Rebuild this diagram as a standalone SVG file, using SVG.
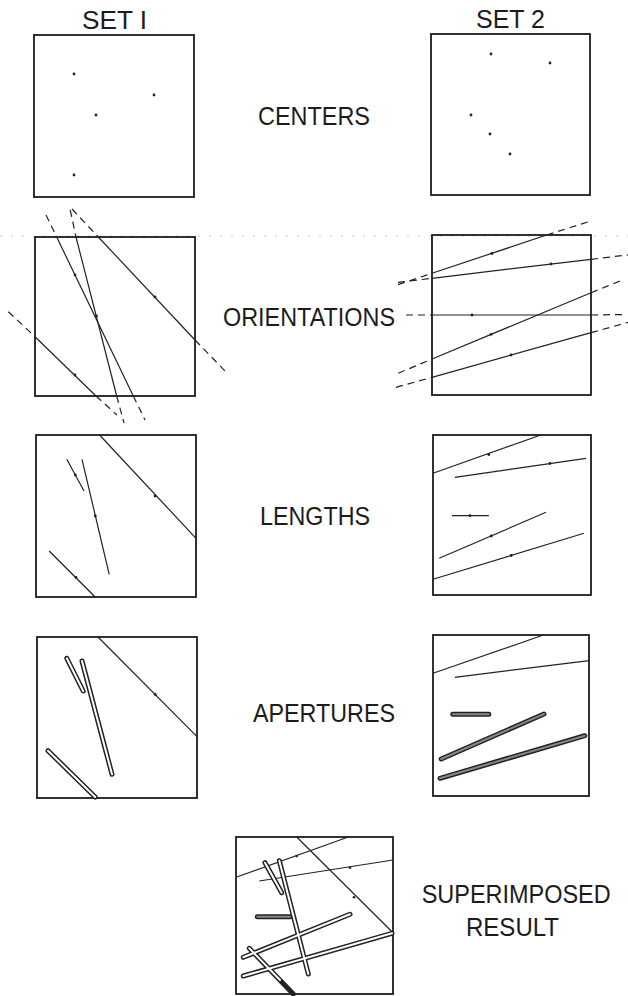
<svg xmlns="http://www.w3.org/2000/svg" width="628" height="996" viewBox="0 0 628 996">
<style>
.box{fill:none;stroke:#1c1c1c;stroke-width:1.8}
.ln{fill:none;stroke:#222;stroke-width:1.2}
.dash{fill:none;stroke:#222;stroke-width:1.2;stroke-dasharray:7 5}
.dot{fill:#222}
.apo{stroke:#222;stroke-width:5;stroke-linecap:round;fill:none}
.api{stroke:#fff;stroke-width:2;stroke-linecap:round;fill:none}
.apg{stroke:#888;stroke-width:2;stroke-linecap:round;fill:none}
.faint{stroke:#c4c4c4;stroke-width:1;stroke-dasharray:2 9;fill:none}
text{font-family:"Liberation Sans",Arial,sans-serif;font-size:25px;fill:#1c1c1c}
</style>
<rect width="628" height="996" fill="#fff"/>

<g id="labels">
<text x="82" y="29" textLength="65" lengthAdjust="spacingAndGlyphs">SET I</text>
<text x="476" y="28" textLength="69" lengthAdjust="spacingAndGlyphs">SET 2</text>
<text x="258" y="125" textLength="112" lengthAdjust="spacingAndGlyphs">CENTERS</text>
<text x="223" y="325.5" textLength="172" lengthAdjust="spacingAndGlyphs">ORIENTATIONS</text>
<text x="260" y="525" textLength="110" lengthAdjust="spacingAndGlyphs">LENGTHS</text>
<text x="253" y="722" textLength="142" lengthAdjust="spacingAndGlyphs">APERTURES</text>
<text x="421.7" y="903.3" textLength="189" lengthAdjust="spacingAndGlyphs">SUPERIMPOSED</text>
<text x="466" y="936" textLength="93" lengthAdjust="spacingAndGlyphs">RESULT</text>
</g>

<line class="faint" x1="0" y1="236" x2="628" y2="236"/>

<g id="centers-set1">
<rect class="box" x="34" y="35" width="160" height="162"/>
<circle class="dot" cx="74" cy="74" r="1.4"/>
<circle class="dot" cx="154" cy="95" r="1.4"/>
<circle class="dot" cx="96" cy="115" r="1.4"/>
<circle class="dot" cx="74" cy="175" r="1.4"/>
</g>

<g id="centers-set2">
<rect class="box" x="431" y="34" width="159" height="161"/>
<circle class="dot" cx="491" cy="54" r="1.4"/>
<circle class="dot" cx="550" cy="63" r="1.4"/>
<circle class="dot" cx="471" cy="115" r="1.4"/>
<circle class="dot" cx="490" cy="134" r="1.4"/>
<circle class="dot" cx="510" cy="154" r="1.4"/>
</g>

<g id="orientations-set1">
<rect class="box" x="35" y="237" width="160" height="159"/>
<line class="ln" x1="56.7" y1="237" x2="133.3" y2="396"/>
<line class="ln" x1="76" y1="237" x2="116.7" y2="396"/>
<line class="ln" x1="98.3" y1="237" x2="195" y2="340"/>
<line class="ln" x1="35" y1="336.7" x2="96" y2="396"/>
<line class="dash" x1="46" y1="215" x2="56.7" y2="237"/>
<line class="dash" x1="133.3" y1="396" x2="145" y2="420"/>
<line class="dash" x1="70.2" y1="210" x2="76" y2="237"/>
<line class="dash" x1="116.7" y1="396" x2="124" y2="423"/>
<line class="dash" x1="72" y1="209" x2="98.3" y2="237"/>
<line class="dash" x1="195" y1="340" x2="227" y2="373"/>
<line class="dash" x1="8.3" y1="311.7" x2="35" y2="336.7"/>
<line class="dash" x1="96" y1="396" x2="117" y2="415"/>
<circle class="dot" cx="75" cy="275" r="1.4"/>
<circle class="dot" cx="155" cy="297" r="1.4"/>
<circle class="dot" cx="96.5" cy="316" r="1.4"/>
<circle class="dot" cx="75" cy="375" r="1.4"/>
</g>

<g id="orientations-set2">
<rect class="box" x="432" y="235" width="159" height="160"/>
<line class="ln" x1="432" y1="273.3" x2="546.7" y2="235"/>
<line class="ln" x1="432" y1="278.3" x2="591" y2="259.3"/>
<line class="ln" x1="432" y1="315" x2="591" y2="315"/>
<line class="ln" x1="432" y1="359" x2="591" y2="292.7"/>
<line class="ln" x1="432" y1="377.3" x2="591" y2="332.7"/>
<line class="dash" x1="398" y1="284.6" x2="432" y2="273.3"/>
<line class="dash" x1="546.7" y1="235" x2="590.7" y2="221"/>
<line class="dash" x1="398" y1="282.4" x2="432" y2="278.3"/>
<line class="dash" x1="591" y1="259.3" x2="628" y2="254.9"/>
<line class="dash" x1="406" y1="315" x2="432" y2="315"/>
<line class="dash" x1="591" y1="315" x2="624" y2="314.5"/>
<line class="dash" x1="398.3" y1="373.3" x2="432" y2="359"/>
<line class="dash" x1="591" y1="292.7" x2="620" y2="281"/>
<line class="dash" x1="396" y1="387.3" x2="432" y2="377.3"/>
<line class="dash" x1="591" y1="332.7" x2="628" y2="322.3"/>
<circle class="dot" cx="492" cy="253.5" r="1.4"/>
<circle class="dot" cx="551" cy="264" r="1.4"/>
<circle class="dot" cx="472" cy="315" r="1.4"/>
<circle class="dot" cx="491" cy="334.3" r="1.4"/>
<circle class="dot" cx="511" cy="355" r="1.4"/>
</g>

<g id="lengths-set1">
<rect class="box" x="36" y="435" width="160" height="162"/>
<line class="ln" x1="100" y1="435.5" x2="196" y2="538.3"/>
<line class="ln" x1="66.8" y1="459.3" x2="84" y2="491"/>
<line class="ln" x1="82" y1="459.3" x2="109.2" y2="574.3"/>
<line class="ln" x1="49.2" y1="551" x2="95.2" y2="597"/>
<circle class="dot" cx="155" cy="496" r="1.4"/>
<circle class="dot" cx="75.3" cy="475" r="1.4"/>
<circle class="dot" cx="95.3" cy="516" r="1.4"/>
<circle class="dot" cx="76" cy="577.5" r="1.4"/>
</g>

<g id="lengths-set2">
<rect class="box" x="433" y="435" width="158" height="160"/>
<line class="ln" x1="433" y1="473.3" x2="540.8" y2="435"/>
<line class="ln" x1="454.8" y1="477.3" x2="586" y2="458.3"/>
<line class="ln" x1="452" y1="515.7" x2="488.8" y2="515.7"/>
<line class="ln" x1="439.2" y1="558.3" x2="546" y2="512.3"/>
<line class="ln" x1="433" y1="579.3" x2="584" y2="533.3"/>
<circle class="dot" cx="488.8" cy="454.5" r="1.4"/>
<circle class="dot" cx="550" cy="463.5" r="1.4"/>
<circle class="dot" cx="470" cy="515.7" r="1.4"/>
<circle class="dot" cx="491.2" cy="536" r="1.4"/>
<circle class="dot" cx="511.2" cy="555.5" r="1.4"/>
</g>

<g id="apertures-set1">
<rect class="box" x="37" y="637" width="160" height="161"/>
<line class="ln" x1="98" y1="637" x2="197" y2="736.7"/>
<circle class="dot" cx="155.2" cy="694.5" r="1.4"/>
<line class="apo" x1="66.8" y1="658.3" x2="83.2" y2="691"/>
<line class="api" x1="66.8" y1="658.3" x2="83.2" y2="691"/>
<line class="apo" x1="82" y1="661" x2="112" y2="774.3"/>
<line class="api" x1="82" y1="661" x2="112" y2="774.3"/>
<line class="apo" x1="48" y1="750.7" x2="95.2" y2="797"/>
<line class="api" x1="48" y1="750.7" x2="95.2" y2="797"/>
</g>

<g id="apertures-set2">
<rect class="box" x="433" y="635" width="156" height="161"/>
<line class="ln" x1="433" y1="673.3" x2="542" y2="635.5"/>
<line class="ln" x1="454.8" y1="677.3" x2="589" y2="660.7"/>
<line class="apo" x1="452.8" y1="714.3" x2="488.8" y2="714.3"/>
<line class="apg" x1="452.8" y1="714.3" x2="488.8" y2="714.3"/>
<line class="apo" x1="441.2" y1="759" x2="544" y2="714"/>
<line class="apg" x1="441.2" y1="759" x2="544" y2="714"/>
<line class="apo" x1="440" y1="778.3" x2="584.8" y2="735.7"/>
<line class="apg" x1="440" y1="778.3" x2="584.8" y2="735.7"/>
</g>

<g id="superimposed">
<rect class="box" x="236" y="837" width="157" height="157"/>
<line class="ln" x1="296.7" y1="837" x2="393" y2="932.7"/>
<line class="ln" x1="236" y1="877.3" x2="348.3" y2="837"/>
<line class="ln" x1="259.3" y1="881" x2="393" y2="860"/>
<circle class="dot" cx="354" cy="897.3" r="1.3"/>
<circle class="dot" cx="296.7" cy="856" r="1.3"/>
<circle class="dot" cx="350" cy="867.7" r="1.3"/>
<line class="apo" x1="257.3" y1="916.7" x2="290" y2="916.7"/>
<line class="apg" x1="257.3" y1="916.7" x2="290" y2="916.7"/>
<line class="apo" x1="243.3" y1="957.3" x2="350" y2="914.3"/>
<line class="apo" x1="243.3" y1="976" x2="392" y2="933.3"/>
<line class="apo" x1="265" y1="862.7" x2="281.7" y2="892.7"/>
<line class="apo" x1="279.3" y1="860.7" x2="308.3" y2="974"/>
<line class="apo" x1="249.3" y1="948.3" x2="293.3" y2="994"/>
<line class="api" x1="243.3" y1="957.3" x2="350" y2="914.3"/>
<line class="api" x1="243.3" y1="976" x2="392" y2="933.3"/>
<line class="api" x1="265" y1="862.7" x2="281.7" y2="892.7"/>
<line class="api" x1="279.3" y1="860.7" x2="308.3" y2="974"/>
<line class="api" x1="249.3" y1="948.3" x2="280" y2="980"/>
</g>
</svg>
